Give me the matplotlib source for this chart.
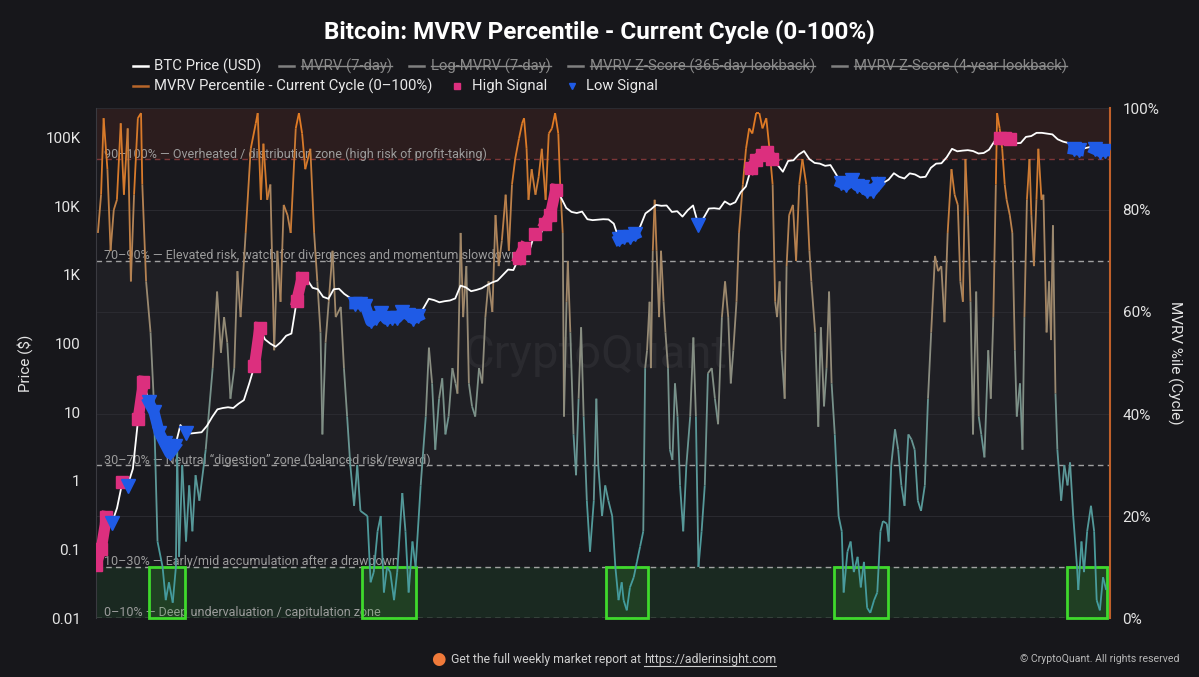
import numpy as np
import matplotlib
matplotlib.use('Agg')
import matplotlib.pyplot as plt
from matplotlib.collections import LineCollection
from matplotlib.colors import LinearSegmentedColormap
from matplotlib.lines import Line2D
from matplotlib.patches import Rectangle
from matplotlib.ticker import NullLocator

plt.rcParams['font.family'] = ['Roboto', 'DejaVu Sans']

# BTC price, mid-month, Sep 2010 .. Aug 2026
btc_price = [
    0.06, 0.1, 0.3, 0.24,                                                       # 2010
    0.4, 0.95, 0.85, 1.5, 8, 28, 14, 10, 5, 3.5, 2.5, 3.2,                      # 2011
    6.5, 5, 4.9, 5, 5.1, 6.3, 8.5, 11, 11.5, 11.8, 11.5, 13.3,                  # 2012
    15, 26, 47, 170, 115, 100, 90, 105, 130, 140, 420, 900,                     # 2013
    850, 650, 620, 480, 450, 620, 630, 530, 470, 380, 380, 350,                 # 2014
    210, 240, 280, 225, 240, 235, 285, 265, 230, 250, 330, 450,                 # 2015
    430, 400, 415, 425, 455, 700, 660, 580, 605, 640, 710, 780,                 # 2016
    830, 1000, 1200, 1180, 1750, 2500, 2200, 4000, 3700, 5600, 7500, 17500,     # 2017
    13500, 9500, 8300, 8000, 8400, 6500, 6300, 6400, 6500, 6450, 5600, 3300,    # 2018
    3600, 3600, 3900, 5100, 7900, 9000, 10500, 10200, 10300, 8300, 8500, 7100,  # 2019
    8800, 10300, 5400, 6800, 9300, 9400, 9200, 11800, 10600, 11500, 16000, 19500,  # 2020
    36000, 48000, 56000, 63000, 49000, 40000, 32000, 46000, 47000, 57000, 64000, 49000,  # 2021
    43000, 42000, 39000, 40000, 30000, 22000, 20500, 24000, 20000, 19200, 16700, 17000,  # 2022
    21000, 22000, 24500, 30400, 27000, 25500, 30300, 29200, 26500, 27000, 36500, 42000,  # 2023
    42500, 52000, 69000, 63500, 65000, 66000, 64000, 59000, 60000, 67000, 88000, 100000,  # 2024
    99000, 97000, 83000, 84000, 103000, 106000, 118000, 118000, 115000, 112000, 95000, 88000,  # 2025
    84000, 68000, 66000, 70000, 73000, 68000, 63000, 64000,                     # 2026
]
first_month = 9  # September 2010

# MVRV percentile (current cycle): decimal year / percent
pct_t = [
    2010.74, 2010.79, 2010.83, 2010.89, 2010.94, 2010.99, 2011.04, 2011.10, 2011.15, 2011.21,
    2011.26, 2011.31, 2011.37, 2011.42, 2011.44, 2011.50, 2011.57, 2011.62, 2011.68, 2011.76,
    2011.81, 2011.86, 2011.92, 2011.97, 2011.99, 2012.02, 2012.07, 2012.13, 2012.18, 2012.23,
    2012.28, 2012.34, 2012.44, 2012.55, 2012.62, 2012.68, 2012.73, 2012.78, 2012.83, 2012.89,
    2012.94, 2012.99, 2013.07, 2013.15, 2013.23, 2013.26, 2013.31, 2013.35, 2013.41, 2013.46,
    2013.52, 2013.57, 2013.62, 2013.67, 2013.73, 2013.78, 2013.86, 2013.91, 2013.96, 2014.01,
    2014.09, 2014.15, 2014.20, 2014.25, 2014.28, 2014.33, 2014.38, 2014.44, 2014.49, 2014.57,
    2014.62, 2014.67, 2014.72, 2014.78, 2014.83, 2014.88, 2014.99, 2015.04, 2015.09, 2015.15,
    2015.20, 2015.25, 2015.30, 2015.35, 2015.41, 2015.46, 2015.54, 2015.59, 2015.64, 2015.70,
    2015.75, 2015.83, 2015.91, 2015.96, 2016.01, 2016.06, 2016.12, 2016.17, 2016.22, 2016.27,
    2016.33, 2016.38, 2016.41, 2016.46, 2016.50, 2016.55, 2016.59, 2016.64, 2016.69, 2016.75,
    2016.80, 2016.85, 2016.90, 2016.96, 2017.01, 2017.06, 2017.11, 2017.17, 2017.22, 2017.27,
    2017.32, 2017.38, 2017.43, 2017.46, 2017.50, 2017.53, 2017.58, 2017.64, 2017.69, 2017.74,
    2017.80, 2017.85, 2017.90, 2017.95, 2018.00, 2018.03, 2018.07, 2018.09, 2018.13, 2018.15,
    2018.19, 2018.24, 2018.28, 2018.32, 2018.36, 2018.40, 2018.45, 2018.50, 2018.56, 2018.60,
    2018.63, 2018.69, 2018.74, 2018.79, 2018.85, 2018.90, 2018.95, 2019.00, 2019.03, 2019.08,
    2019.13, 2019.19, 2019.24, 2019.29, 2019.34, 2019.37, 2019.40, 2019.44, 2019.46, 2019.49,
    2019.52, 2019.55, 2019.59, 2019.62, 2019.66, 2019.69, 2019.73, 2019.76, 2019.80, 2019.84,
    2019.88, 2019.92, 2019.97, 2020.02, 2020.08, 2020.13, 2020.17, 2020.21, 2020.26, 2020.31,
    2020.36, 2020.42, 2020.47, 2020.52, 2020.58, 2020.63, 2020.68, 2020.72, 2020.76, 2020.81,
    2020.85, 2020.91, 2020.96, 2021.01, 2021.06, 2021.12, 2021.17, 2021.22, 2021.28, 2021.33,
    2021.38, 2021.42, 2021.45, 2021.49, 2021.52, 2021.57, 2021.60, 2021.64, 2021.70, 2021.75,
    2021.80, 2021.85, 2021.91, 2021.96, 2021.99, 2022.05, 2022.10, 2022.14, 2022.19, 2022.23,
    2022.27, 2022.31, 2022.36, 2022.42, 2022.47, 2022.50, 2022.56, 2022.61, 2022.66, 2022.72,
    2022.77, 2022.82, 2022.87, 2022.92, 2022.98, 2023.03, 2023.08, 2023.12, 2023.18, 2023.21,
    2023.25, 2023.31, 2023.36, 2023.41, 2023.46, 2023.52, 2023.57, 2023.62, 2023.67, 2023.72,
    2023.78, 2023.83, 2023.88, 2023.94, 2023.99, 2024.04, 2024.09, 2024.14, 2024.20, 2024.25,
    2024.30, 2024.34, 2024.38, 2024.42, 2024.46, 2024.50, 2024.54, 2024.59, 2024.63, 2024.67,
    2024.72, 2024.78, 2024.82, 2024.86, 2024.90, 2024.92, 2024.96, 2025.00, 2025.04, 2025.07,
    2025.12, 2025.16, 2025.20, 2025.23, 2025.28, 2025.32, 2025.35, 2025.39, 2025.43, 2025.46,
    2025.50, 2025.54, 2025.57, 2025.62, 2025.65, 2025.70, 2025.74, 2025.77, 2025.80, 2025.84,
    2025.87, 2025.93, 2025.98, 2026.03, 2026.07, 2026.12, 2026.18, 2026.20, 2026.25, 2026.29,
    2026.34, 2026.40, 2026.45, 2026.49, 2026.54, 2026.59, 2026.64,
]
pct_v = [
    75.5, 83, 98, 88, 72, 80, 82, 97, 83, 96,
    66, 83, 98, 99, 85, 66, 56, 43, 15, 10,
    3.5, 7, 3, 10, 33, 12, 30, 15, 26, 17,
    28, 23, 33, 49, 64, 52, 59, 54, 43, 49,
    68, 59, 75.5, 92, 97, 99, 82, 93, 82, 85,
    52.5, 72, 62, 81, 79, 75.5, 96, 99, 95, 88,
    92, 75.5, 66, 56, 36, 54, 62, 72, 59, 61,
    49, 39.5, 30, 22, 30, 21, 20, 7, 9, 17,
    20, 5, 10, 9, 3.5, 9, 24.5, 17, 5, 15,
    10, 26, 39.5, 53, 46, 33, 43, 47, 36, 39.5,
    49, 46, 44, 75.5, 59, 69, 46, 41.5, 39.5, 49,
    46, 59, 66, 60, 79, 69, 74, 83, 72, 85,
    90, 94, 97, 98, 92, 82, 88, 83, 86.5, 92,
    82, 95, 96, 99, 95, 85, 75.5, 39.5, 62, 70,
    56, 36, 28, 43, 57, 39.5, 23, 13, 23, 43,
    30, 20, 26, 23, 20, 10, 3.5, 7, 3.5, 1.5,
    6, 8, 11, 14, 17, 49, 52.5, 62, 49, 72,
    82, 72, 59, 72, 62, 56, 49, 33, 31, 46,
    39.5, 26, 17, 30, 39.5, 55, 39.5, 10, 17, 26,
    48, 49, 43, 38, 59, 66, 59, 46, 52.5, 62,
    75.5, 85, 92, 96, 95, 99, 99, 96, 98, 92,
    85, 62, 59, 66, 52.5, 43, 69, 79, 81, 70,
    85, 90, 85, 72, 66, 56, 37.5, 57, 41.5, 49,
    64, 46, 36, 20, 17, 5, 13, 15, 9, 12,
    6, 11, 2, 1, 3.5, 5, 17, 19, 18.5, 15,
    30, 37, 33, 26, 22, 36, 35, 33, 23, 21,
    26, 43, 56, 71, 68, 69, 58, 75.5, 88, 83,
    81, 66, 62, 90, 79, 62, 36, 64, 39.5, 36,
    31.5, 52.5, 43, 59, 85, 99, 96, 92, 85, 82,
    79, 75.5, 52.5, 39.5, 46, 33, 59, 82, 90, 79,
    69, 82, 92, 82, 83, 56, 66, 54.5, 77, 44,
    33, 23, 30, 26, 30.5, 20, 10, 5.5, 15, 9,
    17, 22, 17, 3.5, 1.5, 8, 5.5,
]

# signal periods (decimal years)
high_windows = [(2010.70, 2010.90), (2011.10, 2011.14), (2011.35, 2011.47),
                (2013.18, 2013.30), (2013.85, 2013.97), (2017.36, 2017.47),
                (2017.60, 2017.65), (2017.78, 2017.99), (2020.99, 2021.40),
                (2024.90, 2025.13)]
low_windows = [(2010.93, 2011.00), (2011.20, 2011.25), (2011.50, 2011.97),
               (2012.10, 2012.13), (2014.75, 2015.80), (2018.90, 2019.26),
               (2020.18, 2020.23), (2022.40, 2023.10), (2026.10, 2026.22),
               (2026.45, 2026.70)]
green_boxes = [(2011.54, 2012.11), (2014.91, 2015.76), (2018.76, 2019.42),
               (2022.35, 2023.20), (2026.02, 2026.65)]

zone_levels = [90, 70, 30, 10, 0]
zone_labels = [
    '90–100% — Overheated / distribution zone (high risk of profit-taking)',
    '70–90% — Elevated risk, watch for divergences and momentum slowdown',
    '30–70% — Neutral “digestion” zone (balanced risk/reward)',
    '10–30% — Early/mid accumulation after a drawdown',
    '0–10% — Deep undervaluation / capitulation zone',
]

year_ticks = [2012, 2014, 2016, 2018, 2020, 2022, 2024, 2026]
price_ticks = [0.01, 0.1, 1, 10, 100, 1e3, 1e4, 1e5]
price_labels = ['0.01', '0.1', '1', '10', '100', '1K', '10K', '100K']
pct_ticks = [0, 20, 40, 60, 80, 100]

BG = '#17171b'
PLOT_BG = '#19191e'
PINK = '#dc2f7e'
BLUE = '#1f5be6'

W, H = 1199, 677
fig = plt.figure(figsize=(W / 100, H / 100), dpi=100, facecolor=BG)
ax2 = fig.add_axes([96 / W, 1 - 618 / H, (1110 - 96) / W, (618 - 108) / H])
ax1 = ax2.twinx()
# ax2: percentile (right axis), ax1: price (left log axis)
ax1.yaxis.tick_left()
ax1.yaxis.set_label_position('left')
ax2.yaxis.tick_right()
ax2.yaxis.set_label_position('right')
ax1.set_zorder(ax2.get_zorder() + 1)
ax1.patch.set_visible(False)
ax2.set_facecolor(PLOT_BG)

x0, x1 = 2010.71, 2026.70
ax2.set_xlim(x0, x1)
ax2.set_ylim(0, 100)

# zones
ax2.axhspan(90, 100, color='#2c1d1e', zorder=0, lw=0)
ax2.axhspan(30, 70, color='#1f1f24', zorder=0, lw=0)
ax2.axhspan(0, 10, color='#1a2921', zorder=0, lw=0)
ax2.set_yticks(pct_ticks, [f'{p}%' for p in pct_ticks])
ax2.yaxis.grid(True, color='#2a2a30', lw=0.8)
for lvl, lab in zip(zone_levels, zone_labels):
    col = '#8e3c3c' if lvl == 90 else '#b8b8b8'
    ax2.axhline(lvl, color=col, lw=1, ls=(0, (4, 3)), alpha=0.85, zorder=2)
    ax2.text(2010.835, lvl + 1.0, lab, color='#9c9c9c', fontsize=9, va='center', zorder=2)

for a, b in green_boxes:
    ax2.add_patch(Rectangle((a, 0), b - a, 10, facecolor=(0.25, 0.7, 0.2, 0.16),
                            edgecolor='#3fd92c', lw=2, zorder=3, clip_on=False))

ax2.text(0.492, 0.516, 'CryptoQuant', transform=ax2.transAxes, fontsize=34,
         color='white', alpha=0.05, ha='center', va='center', zorder=1)

# percentile line coloured by level
cmap = LinearSegmentedColormap.from_list('pct', [
    (0.0, '#3f9c9e'), (0.3, '#5f9898'), (0.5, '#8b8d80'),
    (0.7, '#a88662'), (0.88, '#d27a2e'), (1.0, '#e67b22')])
pts = np.column_stack([pct_t, pct_v])
segs = np.stack([pts[:-1], pts[1:]], axis=1)
mid = (np.array(pct_v[:-1]) + np.array(pct_v[1:])) / 2
lc = LineCollection(segs, colors=cmap(mid / 100), linewidths=1.3, zorder=4)
ax2.add_collection(lc)

# price
months = np.arange(len(btc_price)) + first_month - 1
px = 2010 + (months + 0.5) / 12
price = np.array(btc_price)
ax1.set_yscale('log')
ax1.set_ylim(0.01, 10 ** 5.434)
ax1.set_xlim(x0, x1)
ax1.plot(px, price, color='white', lw=1.3, zorder=3)
for a, b in high_windows:
    m = (px >= a) & (px <= b)
    ax1.plot(px[m], price[m], color=PINK, lw=8, marker='s', ms=8, zorder=4)
for a, b in low_windows:
    m = (px >= a) & (px <= b)
    ax1.plot(px[m], price[m], color=BLUE, lw=8, marker='v', ms=10, zorder=4)

ax1.set_yticks(price_ticks, price_labels)
ax1.yaxis.set_minor_locator(NullLocator())
ax1.set_xticks(year_ticks, [str(y) for y in year_ticks])
ax1.tick_params(axis='y', length=0, pad=11, labelcolor='#e4e4e4', labelsize=11)
ax1.tick_params(axis='x', length=4, color='#444448', pad=6, labelcolor='#a0a0a0', labelsize=10)
ax2.tick_params(axis='y', length=0, pad=9, labelcolor='#e4e4e4', labelsize=11)
ax2.tick_params(axis='x', length=0, labelbottom=False)

ax1.set_ylabel('Price ($)', color='#e4e4e4', fontsize=11)
ax1.yaxis.set_label_coords(-0.062, 0.5)
ax2.set_ylabel('MVRV %ile (Cycle)', color='#e4e4e4', fontsize=11, rotation=270, va='center')
ax2.yaxis.set_label_coords(1.064, 0.5)

for ax in (ax1, ax2):
    for s in ('top', 'bottom', 'left', 'right'):
        ax.spines[s].set_visible(False)
ax1.spines['left'].set_visible(True)
ax1.spines['left'].set_color('#3a3a40')
ax2.spines['right'].set_visible(True)
ax2.spines['right'].set_color('#c0602a')
ax2.spines['right'].set_linewidth(1.5)

# title
fig.text(0.5, 1 - 32 / H, 'Bitcoin: MVRV Percentile - Current Cycle (0-100%)',
         ha='center', va='center', fontsize=17.5, weight='bold', color='white')

# legend, laid out by hand (hidden series are struck through)
renderer = fig.canvas.get_renderer()
legend_items = [
    ('BTC Price (USD)', 'line', '#ffffff', False),
    ('MVRV (7-day)', 'line', '#808080', True),
    ('Log-MVRV (7-day)', 'line', '#808080', True),
    ('MVRV Z-Score (365-day lookback)', 'line', '#808080', True),
    ('MVRV Z-Score (4-year lookback)', 'line', '#808080', True),
    ('MVRV Percentile - Current Cycle (0–100%)', 'line', '#b8662a', False),
    ('High Signal', 's', PINK, False),
    ('Low Signal', 'v', BLUE, False),
]
LEG_FS = 10.7


def text_width(s):
    t = fig.text(0, 0, s, fontsize=LEG_FS)
    w = t.get_window_extent(renderer).width
    t.remove()
    return w


widths = [text_width(it[0]) for it in legend_items]
HANDLE, GAP, SPACE = 15, 7, 17
row1_w = sum(HANDLE + GAP + w + SPACE for w in widths[:5]) - SPACE
start = (W - row1_w) / 2
rows = [(legend_items[:5], widths[:5], 66), (legend_items[5:], widths[5:], 86)]
for items, ws, ypix in rows:
    x = start
    yf = 1 - ypix / H
    for (label, kind, col, hidden), w in zip(items, ws):
        if kind == 'line':
            fig.add_artist(Line2D([x / W, (x + HANDLE) / W], [yf, yf], color=col, lw=1.8))
        else:
            fig.add_artist(Line2D([(x + HANDLE / 2) / W], [yf], marker=kind, color=col,
                                  ms=5, lw=0))
        tx = x + HANDLE + GAP
        fig.text(tx / W, yf, label, fontsize=LEG_FS, va='center',
                 color='#8a8a8a' if hidden else '#e8e8e8')
        if hidden:
            fig.add_artist(Line2D([tx / W, (tx + w) / W], [yf, yf], color='#8a8a8a', lw=1))
        x = tx + w + SPACE

# footer
foot_y = 1 - 659 / H
part1 = 'Get the full weekly market report at '
part2 = 'https://adlerinsight.com'
t1 = fig.text(451 / W, foot_y, part1, fontsize=8.8, color='#cfcfcf', va='center')
w1 = t1.get_window_extent(renderer).width
t2 = fig.text((451 + w1) / W, foot_y, part2, fontsize=8.8, color='#cfcfcf', va='center')
w2 = t2.get_window_extent(renderer).width
fig.add_artist(Line2D([(451 + w1) / W, (451 + w1 + w2) / W],
                      [foot_y - 7 / H, foot_y - 7 / H], color='#cfcfcf', lw=0.8))
fig.text(438 / W, foot_y, '●', fontsize=12, color='#f07a3a', ha='center', va='center',
         family='DejaVu Sans')
fig.text(1180 / W, foot_y, '© CryptoQuant. All rights reserved', fontsize=7.6,
         color='#b8b8b8', ha='right', va='center')

fig.savefig('out.png', dpi=100, facecolor=BG)
